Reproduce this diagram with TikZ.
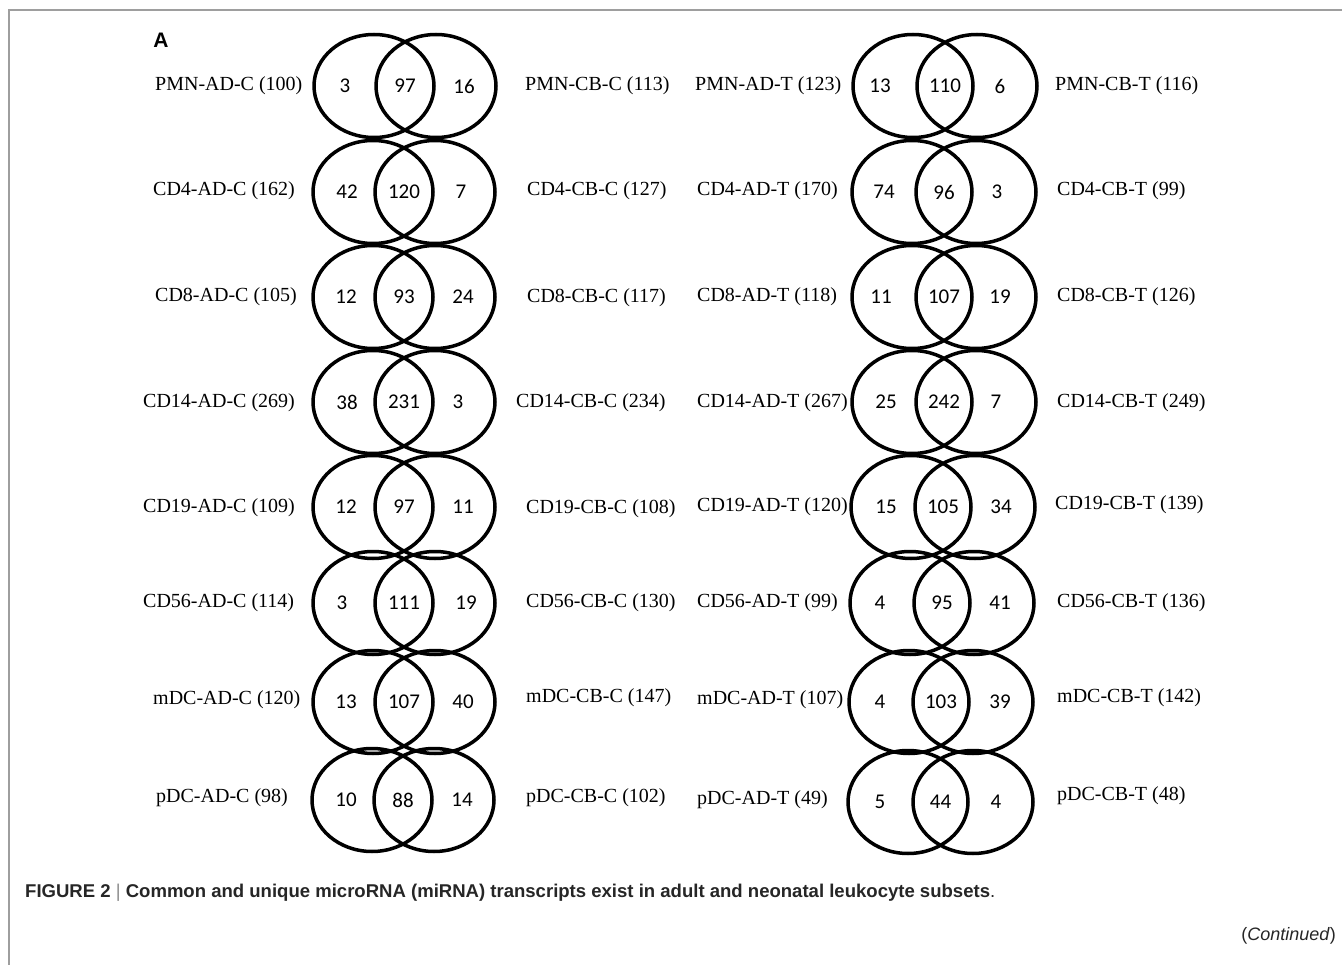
\documentclass[tikz,border=0pt]{standalone}
\usepackage{fontspec}
\usetikzlibrary{shapes.geometric}
\setmainfont{Liberation Serif}
\newfontfamily\numfont{Carlito}
\newfontfamily\capfont{Liberation Sans}
\tikzset{
  vset/.style={draw, ellipse, line width=3.5pt, minimum width=120pt, minimum height=103pt, inner sep=0pt},
  lab/.style={anchor=west, inner sep=0pt, font=\fontsize{20}{24}\selectfont},
  num/.style={inner sep=0pt, font=\numfont\fontsize{21}{24}\selectfont},
  frame/.style={draw=black!38, line width=1.5pt}
}
% \vpair{name}{x1}{x2}{y}{a}{b}{c}{offL}{offR}
\newcommand\vpair[9]{%
  \node[vset] (#1a) at (#2,#4) {};
  \node[vset] (#1b) at (#3,#4) {};
  \node[num] (#1n1) at (#2-#8,#4) {#5};
  \node[num] (#1n2) at ({(#2+#3)/2},#4) {#6};
  \node[num] (#1n3) at (#3+#9,#4) {#7};
}
\begin{document}
\begin{tikzpicture}[x=1pt,y=-1pt]
\useasboundingbox (0,0) rectangle (1342,965);
\fill[white] (0,0) rectangle (1342,965);
\coordinate (fbl) at (9,965);
\coordinate (ftl) at (9,10);
\coordinate (ftr) at (1342,10);
\draw[frame] (fbl) -- (ftl) -- (ftr);
\node[inner sep=0pt, font=\capfont\bfseries\fontsize{21}{24}\selectfont] (A) at (161,40) {A};

% left group
\vpair{r1L}{374}{436}{86}{3}{97}{16}{29}{28}
\vpair{r2L}{373}{435}{192}{42}{120}{7}{26}{26}
\vpair{r3L}{373}{435}{297}{12}{93}{24}{27}{28}
\vpair{r4L}{373}{435}{402}{38}{231}{3}{26}{23}
\vpair{r5L}{373}{435}{507}{12}{97}{11}{27}{28}
\vpair{r6L}{373}{435}{603}{3}{111}{19}{31}{31}
\vpair{r7L}{373}{435}{702}{13}{107}{40}{27}{28}
\vpair{r8L}{372}{434}{800}{10}{88}{14}{26}{28}
% right group
\vpair{r1R}{913}{977}{86}{13}{110}{6}{33}{23}
\vpair{r2R}{912}{976}{192}{74}{96}{3}{28}{21}
\vpair{r3R}{912}{976}{297}{11}{107}{19}{31}{24}
\vpair{r4R}{912}{976}{402}{25}{242}{7}{26}{20}
\vpair{r5R}{911}{975}{507}{15}{105}{34}{25}{26}
\vpair{r6R}{910}{974}{603}{4}{95}{41}{30}{26}
\vpair{r7R}{909}{973}{702}{4}{103}{39}{29}{27}
\vpair{r8R}{908}{973}{802}{5}{44}{4}{28}{23}

% labels column 1
\node[lab] (l1) at (155,86) {PMN-AD-C (100)};
\node[lab] (l2) at (153,191) {CD4-AD-C (162)};
\node[lab] (l3) at (155,297) {CD8-AD-C (105)};
\node[lab] (l4) at (143,403) {CD14-AD-C (269)};
\node[lab] (l5) at (143,508) {CD19-AD-C (109)};
\node[lab] (l6) at (143,603) {CD56-AD-C (114)};
\node[lab] (l7) at (153,700) {mDC-AD-C (120)};
\node[lab] (l8) at (156,798) {pDC-AD-C (98)};
% labels column 2
\node[lab] (m1) at (525,86) {PMN-CB-C (113)};
\node[lab] (m2) at (527,191) {CD4-CB-C (127)};
\node[lab] (m3) at (527,298) {CD8-CB-C (117)};
\node[lab] (m4) at (516,403) {CD14-CB-C (234)};
\node[lab] (m5) at (526,509) {CD19-CB-C (108)};
\node[lab] (m6) at (526,603) {CD56-CB-C (130)};
\node[lab] (m7) at (526,698) {mDC-CB-C (147)};
\node[lab] (m8) at (526,798) {pDC-CB-C (102)};
% labels column 3
\node[lab] (n1) at (695,86) {PMN-AD-T (123)};
\node[lab] (n2) at (697,191) {CD4-AD-T (170)};
\node[lab] (n3) at (697,297) {CD8-AD-T (118)};
\node[lab] (n4) at (697,403) {CD14-AD-T (267)};
\node[lab] (n5) at (697,507) {CD19-AD-T (120)};
\node[lab] (n6) at (697,603) {CD56-AD-T (99)};
\node[lab] (n7) at (697,700) {mDC-AD-T (107)};
\node[lab] (n8) at (697,800) {pDC-AD-T (49)};
% labels column 4
\node[lab] (o1) at (1055,86) {PMN-CB-T (116)};
\node[lab] (o2) at (1057,191) {CD4-CB-T (99)};
\node[lab] (o3) at (1057,297) {CD8-CB-T (126)};
\node[lab] (o4) at (1057,403) {CD14-CB-T (249)};
\node[lab] (o5) at (1055,505) {CD19-CB-T (139)};
\node[lab] (o6) at (1057,603) {CD56-CB-T (136)};
\node[lab] (o7) at (1057,698) {mDC-CB-T (142)};
\node[lab] (o8) at (1057,796) {pDC-CB-T (48)};

% caption
\node[anchor=west, inner sep=0pt, text=black!85] (cap) at (25,893) {\resizebox{970pt}{\height}{\capfont\fontsize{18.5}{22}\selectfont\textbf{FIGURE 2} {\color{black!45}|} \textbf{Common and unique microRNA (miRNA) transcripts exist in adult and neonatal leukocyte subsets}.}};
\node[anchor=east, inner sep=0pt, text=black!85] (cont) at (1336,936) {\capfont\fontsize{18}{21}\selectfont(\textit{Continued})};
\end{tikzpicture}
\end{document}
